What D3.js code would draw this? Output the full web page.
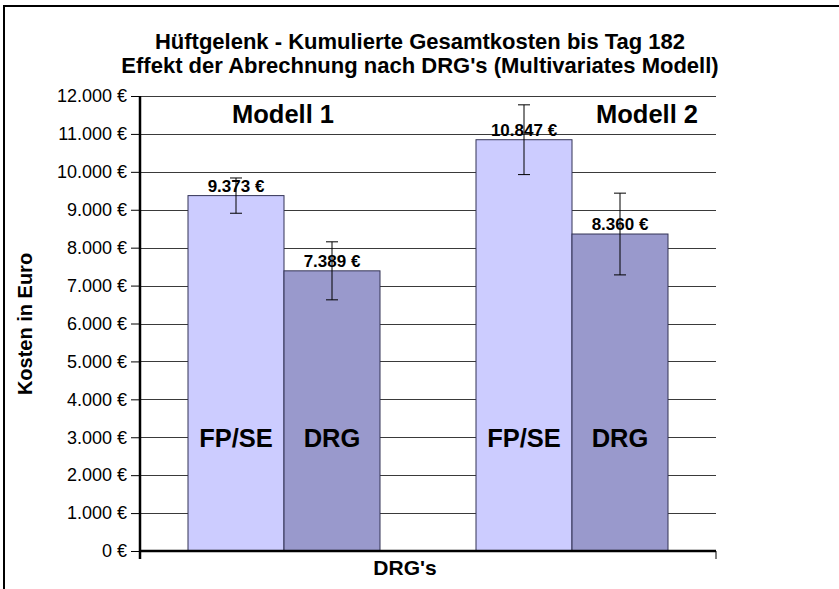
<!DOCTYPE html>
<html>
<head>
<meta charset="utf-8">
<script src="https://cdn.jsdelivr.net/npm/d3@7"></script>
<style>
  body { margin: 0; background: #fff; }
  svg { font-family: "Liberation Sans", Arial, sans-serif; }
</style>
</head>
<body>
<svg id="chart"></svg>
<script>
// values
const models = ["Modell 1", "Modell 2"];
const series = ["FP/SE", "DRG"];
const fpseCosts = [9373, 10847];
const drgCosts = [7389, 8360];
const fpseErrors = [465, 920];
const drgErrors = [765, 1078];
const yTicks = [0, 1000, 2000, 3000, 4000, 5000, 6000, 7000, 8000, 9000, 10000, 11000, 12000];
const titleLines = ["Hüftgelenk - Kumulierte Gesamtkosten bis Tag 182", "Effekt der Abrechnung nach DRG's (Multivariates Modell)"];

const colors = {"FP/SE": "#ccccff", "DRG": "#9999cc"};

class BarChart {
  constructor(_config) {
    this.config = {
      parentElement: _config.parentElement,
      containerWidth: _config.containerWidth || 839,
      containerHeight: _config.containerHeight || 589,
      margin: _config.margin || {top: 96, right: 123, bottom: 38, left: 140}
    };
    this.initVis();
  }

  initVis() {
    let vis = this;
    vis.width = vis.config.containerWidth - vis.config.margin.left - vis.config.margin.right;
    vis.height = vis.config.containerHeight - vis.config.margin.top - vis.config.margin.bottom;

    vis.svg = d3.select(vis.config.parentElement)
        .attr('width', vis.config.containerWidth)
        .attr('height', vis.config.containerHeight);

    // frame, only top and left edge visible
    vis.svg.append('path')
        .attr('d', `M4,${vis.config.containerHeight} V6 H${vis.config.containerWidth}`)
        .attr('fill', 'none')
        .attr('stroke', '#000')
        .attr('stroke-width', 2);

    vis.chart = vis.svg.append('g')
        .attr('transform', `translate(${vis.config.margin.left},${vis.config.margin.top})`);

    vis.xScale = d3.scaleBand().domain(models).range([0, vis.width]).padding(0);
    vis.xInner = d3.scaleBand().domain(series).range([0, vis.xScale.bandwidth()])
        .paddingInner(0).paddingOuter(0.5);
    vis.yScale = d3.scaleLinear().domain([0, 12000]).range([vis.height, 0]);

    vis.locale = d3.formatLocale({decimal: ",", thousands: ".", grouping: [3], currency: ["", " €"]});
    vis.fmt = vis.locale.format("$,.0f");

    // Title
    vis.svg.selectAll('.title')
      .data(titleLines)
      .join('text')
      .attr('class', 'title')
      .attr('x', 420)
      .attr('y', (d, i) => 49 + i * 24)
      .attr('text-anchor', 'middle')
      .style('font-size', '22px')
      .style('font-weight', 'bold')
      .text(d => d);

    // Y-Axis Label
    vis.svg.append('text')
      .attr('transform', 'translate(32,324) rotate(-90)')
      .attr('text-anchor', 'middle')
      .style('font-size', '20px')
      .style('font-weight', 'bold')
      .text('Kosten in Euro');

    // X-Axis Label
    vis.svg.append('text')
      .attr('x', 405)
      .attr('y', 575)
      .attr('text-anchor', 'middle')
      .style('font-size', '21px')
      .style('font-weight', 'bold')
      .text("DRG's");
  }

  updateVis() {
    let vis = this;
    vis.data = [];
    models.forEach((m, i) => {
      vis.data.push({model: m, series: "FP/SE", value: fpseCosts[i], err: fpseErrors[i]});
      vis.data.push({model: m, series: "DRG", value: drgCosts[i], err: drgErrors[i]});
    });
    vis.xPos = d => vis.xScale(d.model) + vis.xInner(d.series);
    vis.xMid = d => vis.xPos(d) + vis.xInner.bandwidth() / 2;

    // gridlines
    vis.chart.append('g')
      .selectAll('line')
      .data(yTicks.filter(t => t > 0))
      .join('line')
      .attr('x1', 0)
      .attr('x2', vis.width)
      .attr('y1', d => Math.round(vis.yScale(d)) + 0.5)
      .attr('y2', d => Math.round(vis.yScale(d)) + 0.5)
      .attr('stroke', '#3a3a3a')
      .attr('stroke-width', 1);

    // bars
    vis.chart.append('g')
      .selectAll('rect')
      .data(vis.data)
      .join('rect')
      .attr('x', d => vis.xPos(d))
      .attr('y', d => vis.yScale(d.value))
      .attr('width', vis.xInner.bandwidth())
      .attr('height', d => vis.height - vis.yScale(d.value))
      .attr('fill', d => colors[d.series])
      .attr('stroke', '#333355')
      .attr('stroke-width', 1);

    // error bars
    const eb = vis.chart.append('g')
      .selectAll('g')
      .data(vis.data)
      .join('g')
      .attr('stroke', '#000')
      .attr('stroke-width', 1);
    eb.append('line')
      .attr('x1', d => vis.xMid(d)).attr('x2', d => vis.xMid(d))
      .attr('y1', d => vis.yScale(d.value + d.err)).attr('y2', d => vis.yScale(d.value - d.err));
    eb.append('line')
      .attr('x1', d => vis.xMid(d) - 6).attr('x2', d => vis.xMid(d) + 6)
      .attr('y1', d => vis.yScale(d.value + d.err)).attr('y2', d => vis.yScale(d.value + d.err));
    eb.append('line')
      .attr('x1', d => vis.xMid(d) - 6).attr('x2', d => vis.xMid(d) + 6)
      .attr('y1', d => vis.yScale(d.value - d.err)).attr('y2', d => vis.yScale(d.value - d.err));

    // value labels
    vis.chart.append('g')
      .selectAll('text')
      .data(vis.data)
      .join('text')
      .attr('x', d => vis.xMid(d))
      .attr('y', d => vis.yScale(d.value) - 4)
      .attr('text-anchor', 'middle')
      .style('font-size', '17px')
      .style('font-weight', 'bold')
      .text(d => vis.fmt(d.value));

    // series names inside bars
    vis.chart.append('g')
      .selectAll('text')
      .data(vis.data)
      .join('text')
      .attr('x', d => vis.xMid(d))
      .attr('y', 447 - vis.config.margin.top)
      .attr('text-anchor', 'middle')
      .style('font-size', '25.5px')
      .style('font-weight', 'bold')
      .text(d => d.series);

    // model labels
    vis.chart.append('g')
      .selectAll('text')
      .data(models)
      .join('text')
      .attr('x', (d, i) => i === 0 ? 283 - vis.config.margin.left : 647 - vis.config.margin.left)
      .attr('y', 123 - vis.config.margin.top)
      .attr('text-anchor', 'middle')
      .style('font-size', '25.5px')
      .style('font-weight', 'bold')
      .text(d => d);

    // y axis
    vis.yAxis = d3.axisLeft(vis.yScale)
      .tickValues(yTicks)
      .tickSize(9)
      .tickPadding(4)
      .tickFormat(vis.fmt);
    vis.yAxisG = vis.chart.append('g').call(vis.yAxis);
    vis.yAxisG.select('.domain').remove();
    vis.yAxisG.selectAll('text').style('font-size', '18px').attr('fill', '#000');
    vis.yAxisG.selectAll('line').attr('stroke', '#000');

    // x axis: thick baseline and end ticks
    vis.chart.append('line')
      .attr('x1', 0).attr('x2', vis.width)
      .attr('y1', vis.height).attr('y2', vis.height)
      .attr('stroke', '#000').attr('stroke-width', 2.5);
    vis.chart.append('line')
      .attr('x1', 0).attr('x2', 0)
      .attr('y1', 0).attr('y2', vis.height + 8)
      .attr('stroke', '#000').attr('stroke-width', 2.5);
    vis.chart.append('line')
      .attr('x1', vis.width).attr('x2', vis.width)
      .attr('y1', vis.height).attr('y2', vis.height + 8)
      .attr('stroke', '#000').attr('stroke-width', 1);
  }
}

const chart = new BarChart({parentElement: '#chart'});
chart.updateVis();
</script>
</body>
</html>
